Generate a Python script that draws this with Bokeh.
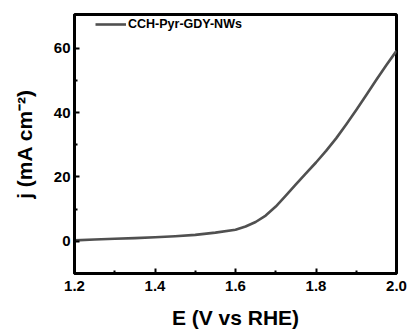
from bokeh.plotting import figure
from bokeh.models import Range1d, Legend, LegendItem, FixedTicker
from bokeh.embed import file_html
from bokeh.resources import INLINE

E = [1.20, 1.25, 1.30, 1.35, 1.40, 1.45, 1.50, 1.55, 1.60, 1.625, 1.65, 1.675,
     1.70, 1.725, 1.75, 1.775, 1.80, 1.825, 1.85, 1.875, 1.90, 1.925, 1.95, 1.975, 2.00]
j = [0.3, 0.55, 0.8, 1.0, 1.25, 1.6, 2.0, 2.7, 3.6, 4.6, 6.0, 8.0,
     10.8, 14.2, 17.7, 21.1, 24.5, 28.1, 32.0, 36.3, 40.8, 45.5, 50.2, 54.8, 59.2]
series_name = "CCH-Pyr-GDY-NWs"
x_ticks = [1.2, 1.4, 1.6, 1.8, 2.0]
y_ticks = [0, 20, 40, 60]

FONT = "Liberation Sans"
LINE_COLOR = "#505050"

p = figure(width=409, height=331, output_backend="svg", toolbar_location=None,
           x_range=Range1d(1.2, 2.0), y_range=Range1d(-10, 70.5),
           min_border_left=74, min_border_right=13, min_border_top=14, min_border_bottom=58)

r = p.line(E, j, line_color=LINE_COLOR, line_width=2.6, line_join="round")

p.xgrid.visible = False
p.ygrid.visible = False
p.outline_line_color = "black"
p.outline_line_width = 3
p.background_fill_color = "white"
p.border_fill_color = "white"

p.xaxis.ticker = FixedTicker(ticks=x_ticks, minor_ticks=[1.3, 1.5, 1.7, 1.9])
p.yaxis.ticker = FixedTicker(ticks=y_ticks, minor_ticks=[-10, 10, 30, 50])
p.xaxis.major_label_overrides = {t: f"{t:.1f}" for t in x_ticks}

for ax in (p.xaxis[0], p.yaxis[0]):
    ax.axis_line_width = 3
    ax.axis_line_color = "black"
    ax.major_tick_in = 5
    ax.major_tick_out = 0
    ax.minor_tick_in = 3
    ax.minor_tick_out = 0
    ax.major_tick_line_width = 2
    ax.minor_tick_line_width = 2
    ax.major_label_text_font = FONT
    ax.major_label_text_font_style = "bold"
    ax.major_label_text_font_size = "15px"
    ax.major_label_text_color = "black"
    ax.axis_label_text_font = FONT
    ax.axis_label_text_font_style = "bold"
    ax.axis_label_text_font_size = "21px"
    ax.axis_label_text_color = "black"

p.xaxis.axis_label = "E (V vs RHE)"
p.xaxis.major_label_standoff = 7
p.xaxis.axis_label_standoff = 12
p.yaxis.axis_label = "j (mA cm\u207b\u00b2)"
p.yaxis.major_label_standoff = 4
p.yaxis.axis_label_standoff = 15

legend = Legend(items=[LegendItem(label=series_name, renderers=[r])],
                location=(21, 242))
legend.border_line_color = None
legend.background_fill_alpha = 0
legend.padding = 0
legend.margin = 0
legend.glyph_width = 31
legend.glyph_height = 14
legend.label_height = 14
legend.label_standoff = 2
legend.label_text_font = FONT
legend.label_text_font_style = "bold"
legend.label_text_font_size = "12.5px"
legend.label_text_color = "black"
legend.label_text_baseline = "middle"
p.add_layout(legend)

open("out.html", "w").write(file_html(p, INLINE))
